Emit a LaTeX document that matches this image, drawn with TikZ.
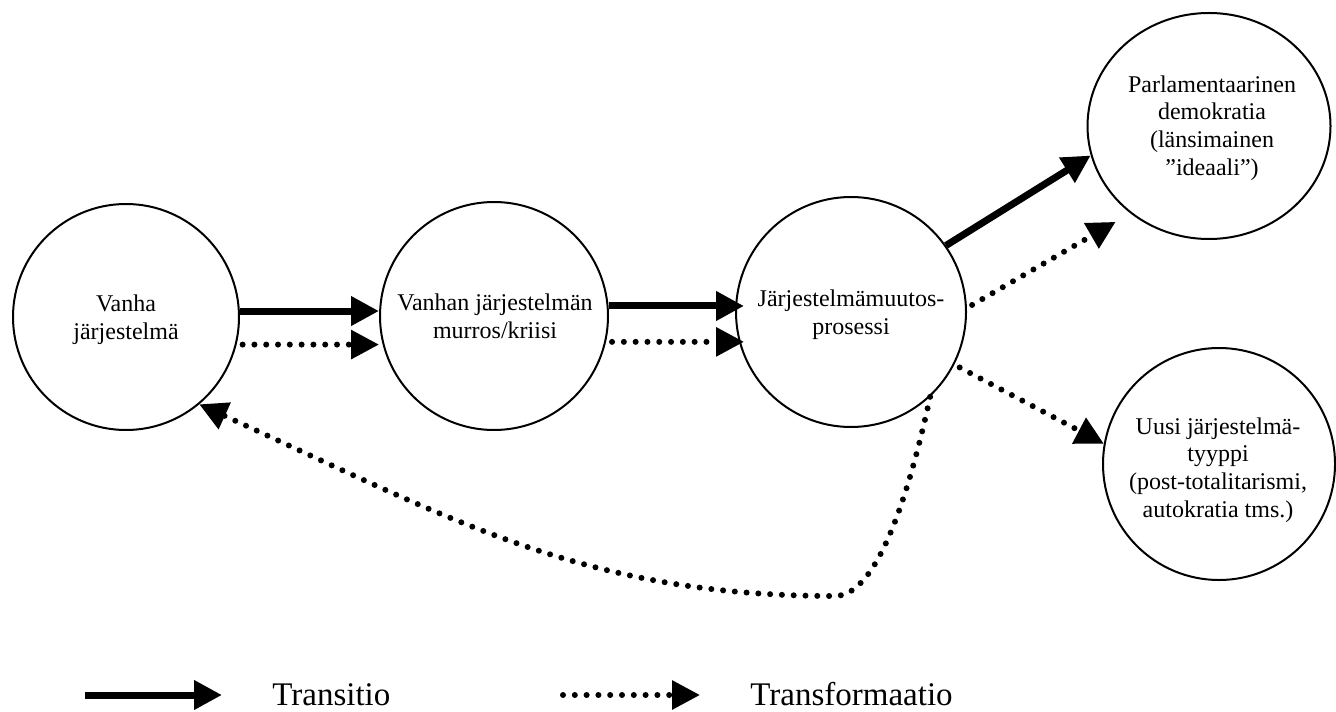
\documentclass[tikz,border=0pt]{standalone}
\usepackage{fontspec}
\setmainfont{Liberation Serif}
\usetikzlibrary{arrows.meta,shapes.geometric}
\begin{document}
\begin{tikzpicture}[x=0.5pt,y=-0.5pt,
  circ/.style={circle, draw, line width=1pt, inner sep=0pt},
  ell/.style={ellipse, draw, line width=1pt, inner sep=0pt},
  lbl/.style={align=center, font=\fontsize{12}{13.9}\selectfont, inner sep=0pt},
  solidarr/.style={line width=3.5pt, -{Triangle[length=14pt,width=14pt]}},
  dotarr/.style={line width=3pt, line cap=round, dash pattern=on 0pt off 5.9pt, -{Triangle[length=14pt,width=14pt]}},
  legtext/.style={font=\fontsize{16.5}{19}\selectfont, anchor=base west, inner sep=0pt}]
\useasboundingbox (0,0) rectangle (1336,711);

% circles
\node[circ, minimum size=113pt] (c1) at (126,317) {};
\node[circ, minimum size=114pt] (c2) at (494,316) {};
\node[circ, minimum size=115pt] (c3) at (851,312) {};
\node[ell, minimum width=121.5pt, minimum height=113pt] (c4) at (1209,126) {};
\node[circ, minimum size=116pt] (c5) at (1219,464) {};

% texts
\node[lbl] (t1) at (126,320) {Vanha\\järjestelmä};
\node[lbl] (t2) at (495,316) {Vanhan järjestelmän\\murros/kriisi};
\node[lbl] (t3) at (851,315) {Järjestelmämuutos-\\prosessi};
\node[lbl] (t4) at (1212,128) {Parlamentaarinen\\demokratia\\(länsimainen\\”ideaali”)};
\node[lbl] (t5) at (1218,470) {Uusi järjestelmä-\\tyyppi\\(post-totalitarismi,\\autokratia tms.)};

% transitions
\draw[solidarr] (c1.3) -- (c1.3 -| c2.west);
\draw[dotarr, shorten <=3pt] (c1.-14) -- (c1.-14 -| c2.west);
\draw[solidarr, shorten >=-4.5pt] (c2.5) -- (c2.5 -| c3.west);
\draw[dotarr, shorten <=3pt, shorten >=-4.5pt] (c2.-13) -- (c2.-13 -| c3.west);
\draw[solidarr] (c3.35) -- (c4.194);
\draw[dotarr, shorten <=3pt, shorten >=8.5pt] (c3.2) -- (c4.228);
\draw[dotarr, shorten <=3pt] (c3.-27) -- (c5.170);
\draw[dotarr] (c3.-47) .. controls (912,480) and (880,596) .. (835,596)
   .. controls (585,596) and (453,520) .. (c1.-50);

% legend
\coordinate (ls1) at (85,695);
\coordinate (ls2) at (222,695);
\coordinate (ld1) at (563,695);
\coordinate (ld2) at (700,695);
\draw[solidarr] (ls1) -- (ls2);
\draw[dotarr] (ld1) -- (ld2);
\node[legtext] (lt1) at (272,705) {Transitio};
\node[legtext] (lt2) at (750,705) {Transformaatio};
\end{tikzpicture}
\end{document}
